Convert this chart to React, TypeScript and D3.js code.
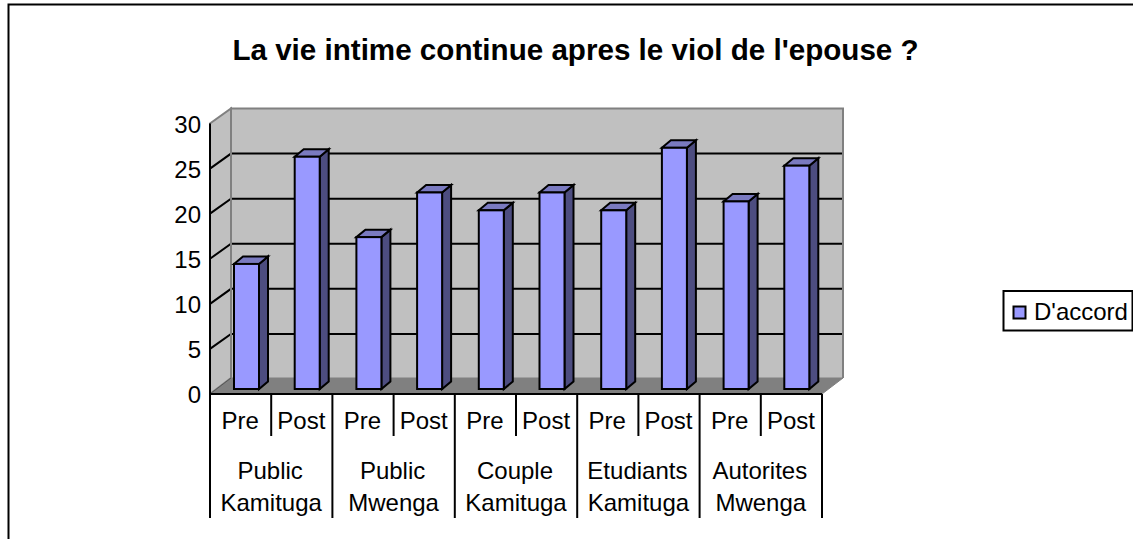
import React from "react";
import * as d3 from "d3";

const title = "La vie intime continue apres le viol de l'epouse ?";
const seriesName = "D'accord";
const groups = [["Public", "Kamituga"], ["Public", "Mwenga"], ["Couple", "Kamituga"], ["Etudiants", "Kamituga"], ["Autorites", "Mwenga"]];
const phases = ["Pre", "Post"];
const values = [14, 26, 17, 22, 20, 22, 20, 27, 21, 25];
const ticks = [0, 5, 10, 15, 20, 25, 30];

const FONT = "'Liberation Sans', Arial, sans-serif";
const x = d3.scaleLinear().domain([0, 10]).range([210, 822]);
const yFront = d3.scaleLinear().domain([0, 30]).range([394, 123.5]);
const yBack = d3.scaleLinear().domain([0, 30]).range([379, 108.5]);
const yBar = d3.scaleLinear().domain([0, 30]).range([389, 121]);
const DX = 21, BW = 25, BD = 9, BH = 7.5, FLOOR = 378;

export default function App() {
  return (
    <svg width={1133} height={539} viewBox="0 0 1133 539" style={{ position: "fixed", left: 0, top: 0, background: "#fff" }} fontFamily={FONT}>
      <path d="M8.5,539V4.5H1133" fill="none" stroke="#000" strokeWidth={2} />
      <text x={575.5} y={60} textAnchor="middle" fontSize={29.6} fontWeight="bold">{title}</text>

      {/* walls */}
      <polygon points={`${x(0)},${yFront(0)} ${x(0) + DX},${FLOOR} ${x(0) + DX},${yBack(30)} ${x(0)},${yFront(30)}`} fill="#c0c0c0" stroke="#808080" strokeWidth={2} />
      <rect x={x(0) + DX} y={yBack(30)} width={x(10) - x(0)} height={FLOOR - yBack(30)} fill="#c0c0c0" />

      {/* gridlines */}
      {ticks.filter((t) => t > 0 && t < 30).map((t) => (
        <path key={t} d={`M${x(0)},${yFront(t)}L${x(0) + DX},${yBack(t)}H${x(10) + DX}`} fill="none" stroke="#000" strokeWidth={2} />
      ))}
      <path d={`M${x(0) + DX},${FLOOR}V${yBack(30)}H${x(10) + DX}V${FLOOR}`} fill="none" stroke="#808080" strokeWidth={2} />
      <polygon points={`${x(0)},${yFront(0)} ${x(10)},${yFront(0)} ${x(10) + DX},${FLOOR} ${x(0) + DX},${FLOOR}`} fill="#808080" stroke="#808080" />
      <path d={`M${x(0)},${yFront(0)}L${x(0) + DX},${FLOOR}`} stroke="#555" strokeWidth={1} />

      {/* bars */}
      {values.map((v, i) => {
        const l = x(i) + 24 + (i % 2 ? -0.5 : 0);
        const t = yBar(v), b = yBar(0), r = l + BW;
        return (
          <g key={i} stroke="#000" strokeWidth={2} strokeLinejoin="miter">
            <polygon points={`${r},${t} ${r + BD},${t - BH} ${r + BD},${b - BH} ${r},${b}`} fill="#4d4d80" />
            <polygon points={`${l},${t} ${l + BD},${t - BH} ${r + BD},${t - BH} ${r},${t}`} fill="#7a7ac0" />
            <rect x={l} y={t} width={BW} height={b - t} fill="#9999ff" />
          </g>
        );
      })}

      {/* y axis */}
      <line x1={x(0)} x2={x(0)} y1={yFront(30)} y2={yFront(0)} stroke="#000" strokeWidth={2} />
      {ticks.map((t) => (
        <text key={t} x={201} y={yFront(t) + 9} textAnchor="end" fontSize={24}>{t}</text>
      ))}

      {/* x axis */}
      <line x1={x(0)} x2={x(10)} y1={yFront(0)} y2={yFront(0)} stroke="#000" strokeWidth={2} />
      {d3.range(11).map((i) => (
        <line key={i} x1={x(i)} x2={x(i)} y1={yFront(0)} y2={i % 2 ? 436 : 518} stroke="#000" strokeWidth={2} />
      ))}
      {values.map((_, i) => (
        <text key={i} x={x(i + 0.5) - 0.5} y={429} textAnchor="middle" fontSize={24}>{phases[i % 2]}</text>
      ))}
      {groups.map((g, i) => (
        <g key={i}>
          {g.map((w, j) => (
            <text key={w} x={x(i * 2 + 1) + (j === 0 ? -1 : 0)} y={479 + j * 32} textAnchor="middle" fontSize={24}>{w}</text>
          ))}
        </g>
      ))}

      {/* legend */}
      <rect x={1003.5} y={291} width={129} height={39.5} fill="#fff" stroke="#000" strokeWidth={2} />
      <rect x={1013.5} y={306.5} width={12} height={12} fill="#9999ff" stroke="#000" strokeWidth={2} />
      <text x={1034} y={320} fontSize={24}>{seriesName}</text>
    </svg>
  );
}
